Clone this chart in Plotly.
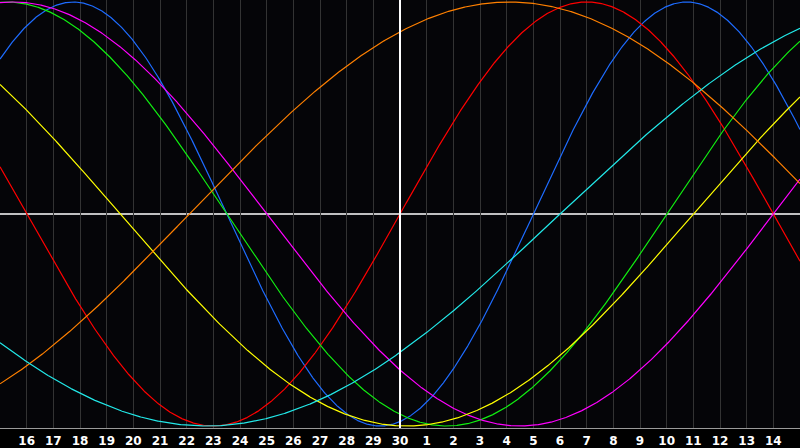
import numpy as np
import plotly.graph_objects as go

# Biorhythm cycles: period (days) and day offset of the upward zero crossing
# relative to the centre day ("30")
cycle_names = ["Physical", "Emotional", "Intellectual", "Intuitive", "Aesthetic", "Awareness", "Spiritual"]
cycle_periods = [23, 28, 33, 38, 43, 48, 53]
cycle_offsets = [5.0, 0.0, 10.0, 14.0, 11.0, -7.9, 6.0]
cycle_colors = ["#1e6cff", "#ff0000", "#11ee11", "#ff00ff", "#ffff00", "#ff8000", "#22e8e8"]

# Day axis: centre day at 0
tick_positions = list(range(-14, 15))
tick_labels = ["16", "17", "18", "19", "20", "21", "22", "23", "24", "25", "26", "27", "28", "29",
               "30", "1", "2", "3", "4", "5", "6", "7", "8", "9", "10", "11", "12", "13", "14"]
x_start, x_end = -15, 15

t = np.linspace(x_start, x_end, 1501)

fig = go.Figure()
for name, p, off, col in zip(cycle_names, cycle_periods, cycle_offsets, cycle_colors):
    y = np.sin(2 * np.pi * (t - off) / p)
    fig.add_trace(go.Scatter(x=t, y=y, mode="lines", name=name,
                             line=dict(color=col, width=1.2), hoverinfo="skip"))

fig.add_shape(type="line", x0=0, x1=0, y0=0, y1=1, xref="x", yref="paper",
              line=dict(color="#ffffff", width=2), layer="above")
fig.add_shape(type="line", x0=0, x1=1, y0=0, y1=0, xref="paper", yref="y",
              line=dict(color="#ffffff", width=1.6), layer="between")

fig.update_layout(
    width=800, height=448,
    margin=dict(l=0, r=0, t=0, b=20),
    paper_bgcolor="#000000",
    plot_bgcolor="#050508",
    showlegend=False,
    font=dict(family="DejaVu Sans", size=12, color="#ffffff", weight="bold"),
    xaxis=dict(range=[x_start, x_end], tickmode="array", tickvals=tick_positions,
               ticktext=tick_labels, showgrid=True, gridcolor="#333333", gridwidth=1,
               zeroline=False, showline=True, linecolor="#9a9a9a", linewidth=1, mirror=True,
               ticks="", ticklabelstandoff=2, fixedrange=True),
    yaxis=dict(range=[-1.0094, 1.0094], showgrid=False, zeroline=False, showticklabels=False,
               showline=True, linecolor="#9a9a9a", linewidth=1, mirror=True, fixedrange=True),
)

fig.write_html("out.html", config={"displayModeBar": False},
               post_script="document.body.style.margin='0';document.body.style.overflow='hidden';")
